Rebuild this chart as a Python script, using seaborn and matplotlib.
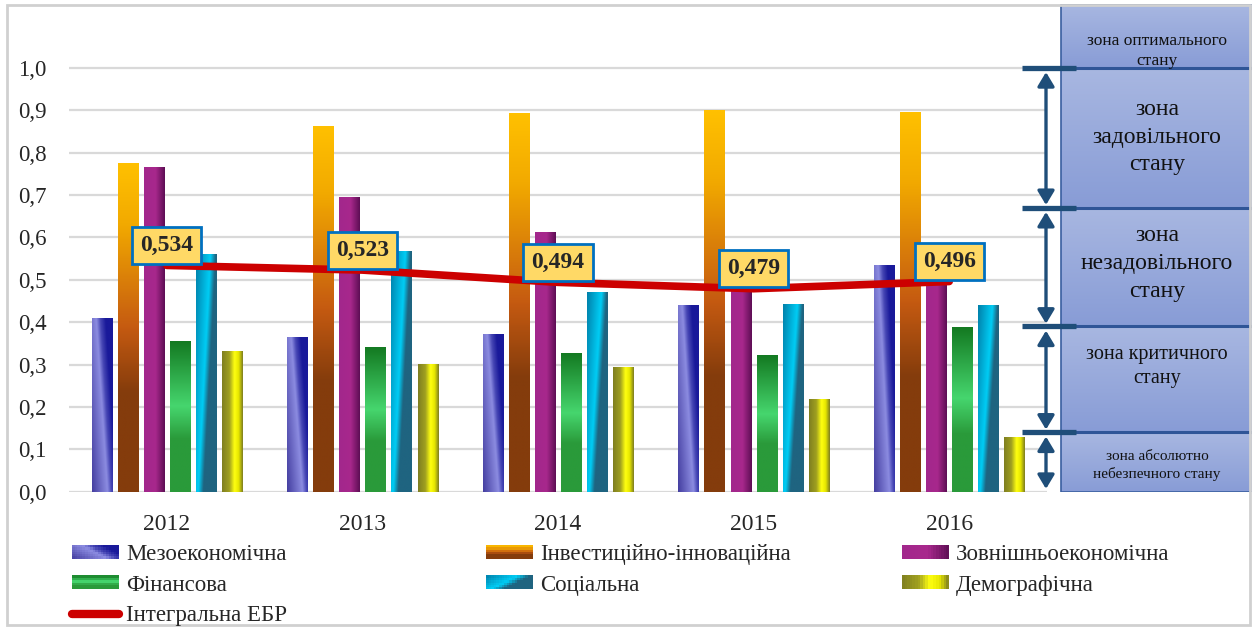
import numpy as np
import pandas as pd
import matplotlib
matplotlib.use("Agg")
import matplotlib.pyplot as plt
import seaborn as sns
from matplotlib.colors import LinearSegmentedColormap
from matplotlib.patches import Rectangle, Patch
from matplotlib.lines import Line2D
from matplotlib.legend_handler import HandlerBase

W, H = 1252, 628

# chart data
years = ["2012", "2013", "2014", "2015", "2016"]
indicators = ["Мезоекономічна", "Інвестиційно-інноваційна", "Зовнішньоекономічна",
              "Фінансова", "Соціальна", "Демографічна"]
mezo = [0.411, 0.365, 0.372, 0.441, 0.535]
invest = [0.776, 0.864, 0.894, 0.901, 0.897]
zovn = [0.767, 0.695, 0.613, 0.500, 0.510]
fin = [0.356, 0.342, 0.327, 0.323, 0.388]
soc = [0.561, 0.567, 0.471, 0.444, 0.441]
demo = [0.333, 0.301, 0.294, 0.219, 0.128]
integral = [0.534, 0.523, 0.494, 0.479, 0.496]
integral_name = "Інтегральна ЕБР"

# zone thresholds (bottom to top) and their names
zone_edges = [0.0, 0.14, 0.39, 0.67, 1.0]
zone_names = ["зона абсолютно\nнебезпечного стану", "зона критичного\nстану",
              "зона\nнезадовільного\nстану", "зона\nзадовільного\nстану",
              "зона оптимального\nстану"]

yticks = [0.0, 0.1, 0.2, 0.3, 0.4, 0.5, 0.6, 0.7, 0.8, 0.9, 1.0]

# build long table for seaborn
values = [mezo, invest, zovn, fin, soc, demo]
rows = []
for name, vals in zip(indicators, values):
    for y, v in zip(years, vals):
        rows.append({"year": y, "indicator": name, "value": v})
df = pd.DataFrame(rows)

# gradient looks for every series: colormap stops + direction
def cm(name, stops):
    return LinearSegmentedColormap.from_list(name, stops)

styles = {
    "Мезоекономічна": (cm("mezo", [(0, "#443EA0"), (0.484, "#8C8CE1"), (0.613, "#4646B4"),
                                   (0.774, "#19199A"), (1, "#19199A")]), "mezo"),
    "Інвестиційно-інноваційна": (cm("inv", [(0, "#843C0C"), (0.3, "#843C0C"), (0.5, "#C55A11"),
                                            (0.82, "#F2AA00"), (1, "#FFC000")]), "v"),
    "Зовнішньоекономічна": (cm("zov", [(0, "#A2278C"), (0.55, "#A8288C"), (1, "#5E0E55")]), "h"),
    "Фінансова": (cm("fin", [(0, "#2A9A3A"), (0.35, "#2A9A3A"), (0.57, "#46D66E"),
                             (1, "#147A22")]), "v"),
    "Соціальна": (cm("soc", [(0, "#0080AA"), (0.4375, "#00CDF5"), (0.594, "#1F6480"),
                             (1, "#1F6480")]), "soc"),
    "Демографічна": (cm("dem", [(0, "#7F7F20"), (0.35, "#A0A020"), (0.6, "#FFFF10"),
                                (0.8, "#E6E600"), (1, "#7F7F20")]), "h"),
}
base = {k: v[0](0.5) for k, v in styles.items()}


def shade(kind, X, Y):
    if kind == "v":
        return Y
    if kind == "h":
        return X
    if kind == "mezo":
        return (X + 0.55 * Y) / 1.55
    return (X - 0.6 * Y + 0.6) / 1.6


def grad_fill(ax, x0, x1, y0, y1, cmap, kind, clip=None, z=1.5):
    X, Y = np.meshgrid(np.linspace(0, 1, 60), np.linspace(0, 1, 120))
    im = ax.imshow(shade(kind, X, Y), cmap=cmap, vmin=0, vmax=1, extent=(x0, x1, y0, y1),
                   origin="lower", aspect="auto", interpolation="bilinear", zorder=z)
    if clip is not None:
        im.set_clip_path(clip)
    return im


class GradHandler(HandlerBase):
    def __init__(self, key):
        super().__init__()
        self.key = key

    def create_artists(self, legend, orig_handle, xdescent, ydescent, width, height, fontsize, trans):
        cmap, kind = styles[self.key]
        nx, ny = 18, 6
        arts = []
        for i in range(nx):
            for j in range(ny):
                c = cmap(float(shade(kind, (i + 0.5) / nx, (j + 0.5) / ny)))
                arts.append(Rectangle((-xdescent + width * i / nx, -ydescent + height * j / ny),
                                      width / nx * 1.08, height / ny * 1.08, fc=c, ec="none",
                                      transform=trans))
        return arts


sns.set_style("white")
plt.rcParams["font.family"] = ["Liberation Serif", "DejaVu Serif"]

fig = plt.figure(figsize=(W / 100, H / 100), dpi=100)
bottom, height = 136.3 / H, (491.7 - 4.4) / H
ax = fig.add_axes([69 / W, bottom, (1047 - 69) / W, height])

sns.barplot(data=df, x="year", y="value", hue="indicator", hue_order=indicators,
            palette=base, saturation=1, width=0.8, gap=0.23, linewidth=0,
            legend=False, ax=ax)
bars = list(ax.patches)
lookup = {tuple(np.round(matplotlib.colors.to_rgba(c), 4)): k for k, c in base.items()}
for b in bars:
    key = lookup.get(tuple(np.round(b.get_facecolor(), 4)))
    if key is None or b.get_height() <= 0:
        continue
    cmap, kind = styles[key]
    grad_fill(ax, b.get_x(), b.get_x() + b.get_width(), b.get_y(), b.get_y() + b.get_height(),
              cmap, kind, clip=b, z=1.6)

sns.lineplot(x=years, y=integral, ax=ax, color="#CC0000", lw=5.5, zorder=4,
             solid_capstyle="round", sort=False, legend=False)

for i, v in enumerate(integral):
    ax.annotate(f"{v:.3f}".replace(".", ","), xy=(i, v), xytext=(0, 20),
                textcoords="offset pixels", ha="center", va="center",
                fontsize=17, fontweight="bold", zorder=6,
                bbox=dict(boxstyle="square,pad=0.34", fc="#FFD966", ec="#0070C0", lw=2))

ax.set_xlim(-0.5, 4.5)
ax.set_ylim(0, 1.15)
ax.set_yticks(yticks)
ax.set_yticklabels([f"{t:.1f}".replace(".", ",") for t in yticks])
ax.set_xlabel("")
ax.set_ylabel("")
ax.set_axisbelow(True)
ax.yaxis.grid(True, color="#D9D9D9", lw=1.6)
ax.xaxis.grid(False)
ax.tick_params(axis="both", length=0)
ax.tick_params(axis="y", pad=16, labelsize=16.5)
ax.tick_params(axis="x", pad=16, labelsize=17)
sns.despine(ax=ax, left=True, bottom=True)

# zone panel on the right
az = fig.add_axes([1015 / W, bottom, (W - 1015) / W, height])
az.axis("off")
zcol = "#1F4E79"
box_cmap = cm("box", [(0, "#889CD6"), (1, "#A8B7E1")])
tops = zone_edges[1:] + [1.15]
bots = zone_edges
text_y = [0.062, 0.295, 0.539, 0.837, 1.04]
text_fs = [11, 14.5, 17, 17, 12.5]
text_ls = [1.3, 1.35, 1.45, 1.4, 1.3]
for lo, hi, name, ty, fs, ls in zip(bots, tops, zone_names, text_y, text_fs, text_ls):
    grad_fill(az, 1061, 1262, lo, hi, box_cmap, "v", z=1)
    az.add_patch(Rectangle((1061, lo), 201, hi - lo, fill=False, ec="#3A5FA0", lw=1.2, zorder=2))
    az.text(1157, ty, name, ha="center", va="center", fontsize=fs, color="#111111",
            linespacing=ls, zorder=3)
for e in zone_edges[1:]:
    az.plot([1061, 1252], [e, e], color="#2F5597", lw=2.2, zorder=2.5)
    az.plot([1022, 1076], [e, e], color=zcol, lw=3.8, zorder=3, solid_capstyle="butt")
for lo, hi in zip(zone_edges[:-1], zone_edges[1:]):
    az.annotate("", xy=(1046, hi), xytext=(1046, lo), annotation_clip=False,
                arrowprops=dict(arrowstyle="<|-|>,head_length=0.6,head_width=0.36",
                                color=zcol, lw=2.4, mutation_scale=14,
                                shrinkA=2, shrinkB=3))
az.set_xlim(1015, W)
az.set_ylim(0, 1.15)

# legend, three columns placed like the original
proxies = {k: Patch(label=k) for k in indicators}
line_h = Line2D([], [], color="#CC0000", lw=6, solid_capstyle="round")
hmap = {proxies[k]: GradHandler(k) for k in indicators}
cols = [([proxies[indicators[0]], proxies[indicators[3]], line_h],
         [indicators[0], indicators[3], integral_name], 72),
        ([proxies[indicators[1]], proxies[indicators[4]]], [indicators[1], indicators[4]], 486),
        ([proxies[indicators[2]], proxies[indicators[5]]], [indicators[2], indicators[5]], 902)]
for hs, ls, x in cols:
    fig.legend(hs, ls, loc="upper left", bbox_to_anchor=(x / W, (H - 544) / H),
               frameon=False, borderpad=0, borderaxespad=0, handlelength=2.05,
               handleheight=0.55, handletextpad=0.3, labelspacing=0.42,
               fontsize=16.5, handler_map=hmap)

fig.patches.append(Rectangle((7 / W, 3 / H), (1250 - 7) / W, (623 - 3) / H,
                             transform=fig.transFigure, fill=False, ec="#D0D0D0", lw=2))

fig.savefig("out.png", dpi=100)
